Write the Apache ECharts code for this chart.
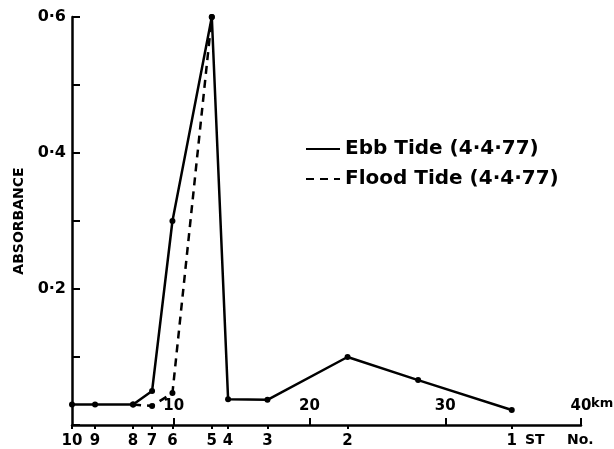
<!DOCTYPE html>
<html>
<head>
<meta charset="utf-8">
<script src="https://cdn.jsdelivr.net/npm/echarts@6/dist/echarts.min.js"></script>
<style>html,body{margin:0;padding:0;background:#fff;}#c{width:614px;height:449px;}</style>
</head>
<body>
<div id="c"></div>
<script>
// Station numbers and their distance (km) along the estuary
const stationNames = ['10', '9', '8', '7', '6', '5', '4', '3', '2', '1'];
const stationKm    = [2.5, 4.2, 7.0, 8.4, 9.9, 12.8, 14.0, 16.9, 22.8, 34.9];
// Ebb tide absorbance (km, value)
const ebbKm   = [2.5, 4.2, 7.0, 8.4, 9.9, 12.8, 14.0, 16.9, 22.8, 28.0, 34.9];
const ebbVal  = [0.03, 0.03, 0.03, 0.05, 0.30, 0.60, 0.038, 0.037, 0.10, 0.066, 0.022];
// Flood tide absorbance (km, value)
const floodKm  = [7.0, 8.4, 9.9, 12.8];
const floodVal = [0.03, 0.028, 0.047, 0.60];
// km scale ticks
const kmTicks = [10, 20, 30, 40];
const yTicks = [0.2, 0.4, 0.6];

const FONT = 'DejaVu Sans';
const chart = echarts.init(document.getElementById('c'), null, {renderer: 'canvas'});
const pairs = (xs, ys) => xs.map((x, i) => [x, ys[i]]);

chart.setOption({
  backgroundColor: '#fff',
  animation: false,
  grid: {left: 72, right: 33, top: 17, bottom: 24, containLabel: false},
  legend: {
    orient: 'vertical', left: 300, top: 134, itemGap: 10,
    itemWidth: 34, itemHeight: 14,
    itemStyle: {opacity: 0},
    textStyle: {fontFamily: FONT, fontWeight: 'bold', fontSize: 20, color: '#000'},
    data: ['Ebb Tide (4·4·77)', 'Flood Tide (4·4·77)']
  },
  xAxis: [
    {
      type: 'value', min: 2.5, max: 40, position: 'bottom',
      axisLine: {show: true, lineStyle: {color: '#000', width: 2.5}},
      axisTick: {show: true, length: 4, lineStyle: {color: '#000', width: 2}, customValues: stationKm},
      axisLabel: {
        show: true, margin: 9, customValues: stationKm,
        formatter: v => { const i = stationKm.indexOf(v); return i >= 0 ? stationNames[i] : ''; },
        fontFamily: FONT, fontWeight: 'bold', fontSize: 15, color: '#000'
      },
      splitLine: {show: false}
    },
    {
      type: 'value', min: 2.5, max: 40, position: 'bottom',
      axisLine: {show: false},
      axisTick: {show: true, inside: true, length: 7, lineStyle: {color: '#000', width: 2}, customValues: kmTicks},
      axisLabel: {
        show: true, inside: true, margin: 11, customValues: kmTicks,
        formatter: v => String(v),
        fontFamily: FONT, fontWeight: 'bold', fontSize: 15, color: '#000'
      },
      splitLine: {show: false}
    }
  ],
  yAxis: {
    type: 'value', min: 0, max: 0.6, interval: 0.1,
    name: 'ABSORBANCE', nameLocation: 'middle', nameGap: 46, nameRotate: 90,
    nameTextStyle: {fontFamily: FONT, fontWeight: 'bold', fontSize: 14, color: '#000'},
    axisLine: {show: true, lineStyle: {color: '#000', width: 2.5}},
    axisTick: {show: true, inside: true, length: 8, lineStyle: {color: '#000', width: 2}},
    axisLabel: {
      margin: 6,
      formatter: v => {
        const r = Math.round(v * 10) / 10;
        return yTicks.some(t => Math.abs(t - r) < 1e-9) ? r.toFixed(1).replace('.', '·') : '';
      },
      fontFamily: FONT, fontWeight: 'bold', fontSize: 16, color: '#000'
    },
    splitLine: {show: false}
  },
  series: [
    {
      name: 'Ebb Tide (4·4·77)', type: 'line', xAxisIndex: 0,
      data: pairs(ebbKm, ebbVal),
      symbol: 'circle', symbolSize: 6,
      itemStyle: {color: '#000'},
      lineStyle: {color: '#000', width: 2.5}
    },
    {
      name: 'Flood Tide (4·4·77)', type: 'line', xAxisIndex: 0,
      data: pairs(floodKm, floodVal),
      symbol: 'circle', symbolSize: 6,
      itemStyle: {color: '#000'},
      lineStyle: {color: '#000', width: 2.5, type: [8, 6]}
    }
  ],
  graphic: [
    {type: 'text', left: 591, top: 397, style: {text: 'km', fontFamily: FONT, fontWeight: 'bold', fontSize: 13, fill: '#000'}},
    {type: 'text', left: 525, top: 433, style: {text: 'ST', fontFamily: FONT, fontWeight: 'bold', fontSize: 14, fill: '#000'}},
    {type: 'text', left: 567, top: 433, style: {text: 'No.', fontFamily: FONT, fontWeight: 'bold', fontSize: 14, fill: '#000'}}
  ]
});
</script>
</body>
</html>
